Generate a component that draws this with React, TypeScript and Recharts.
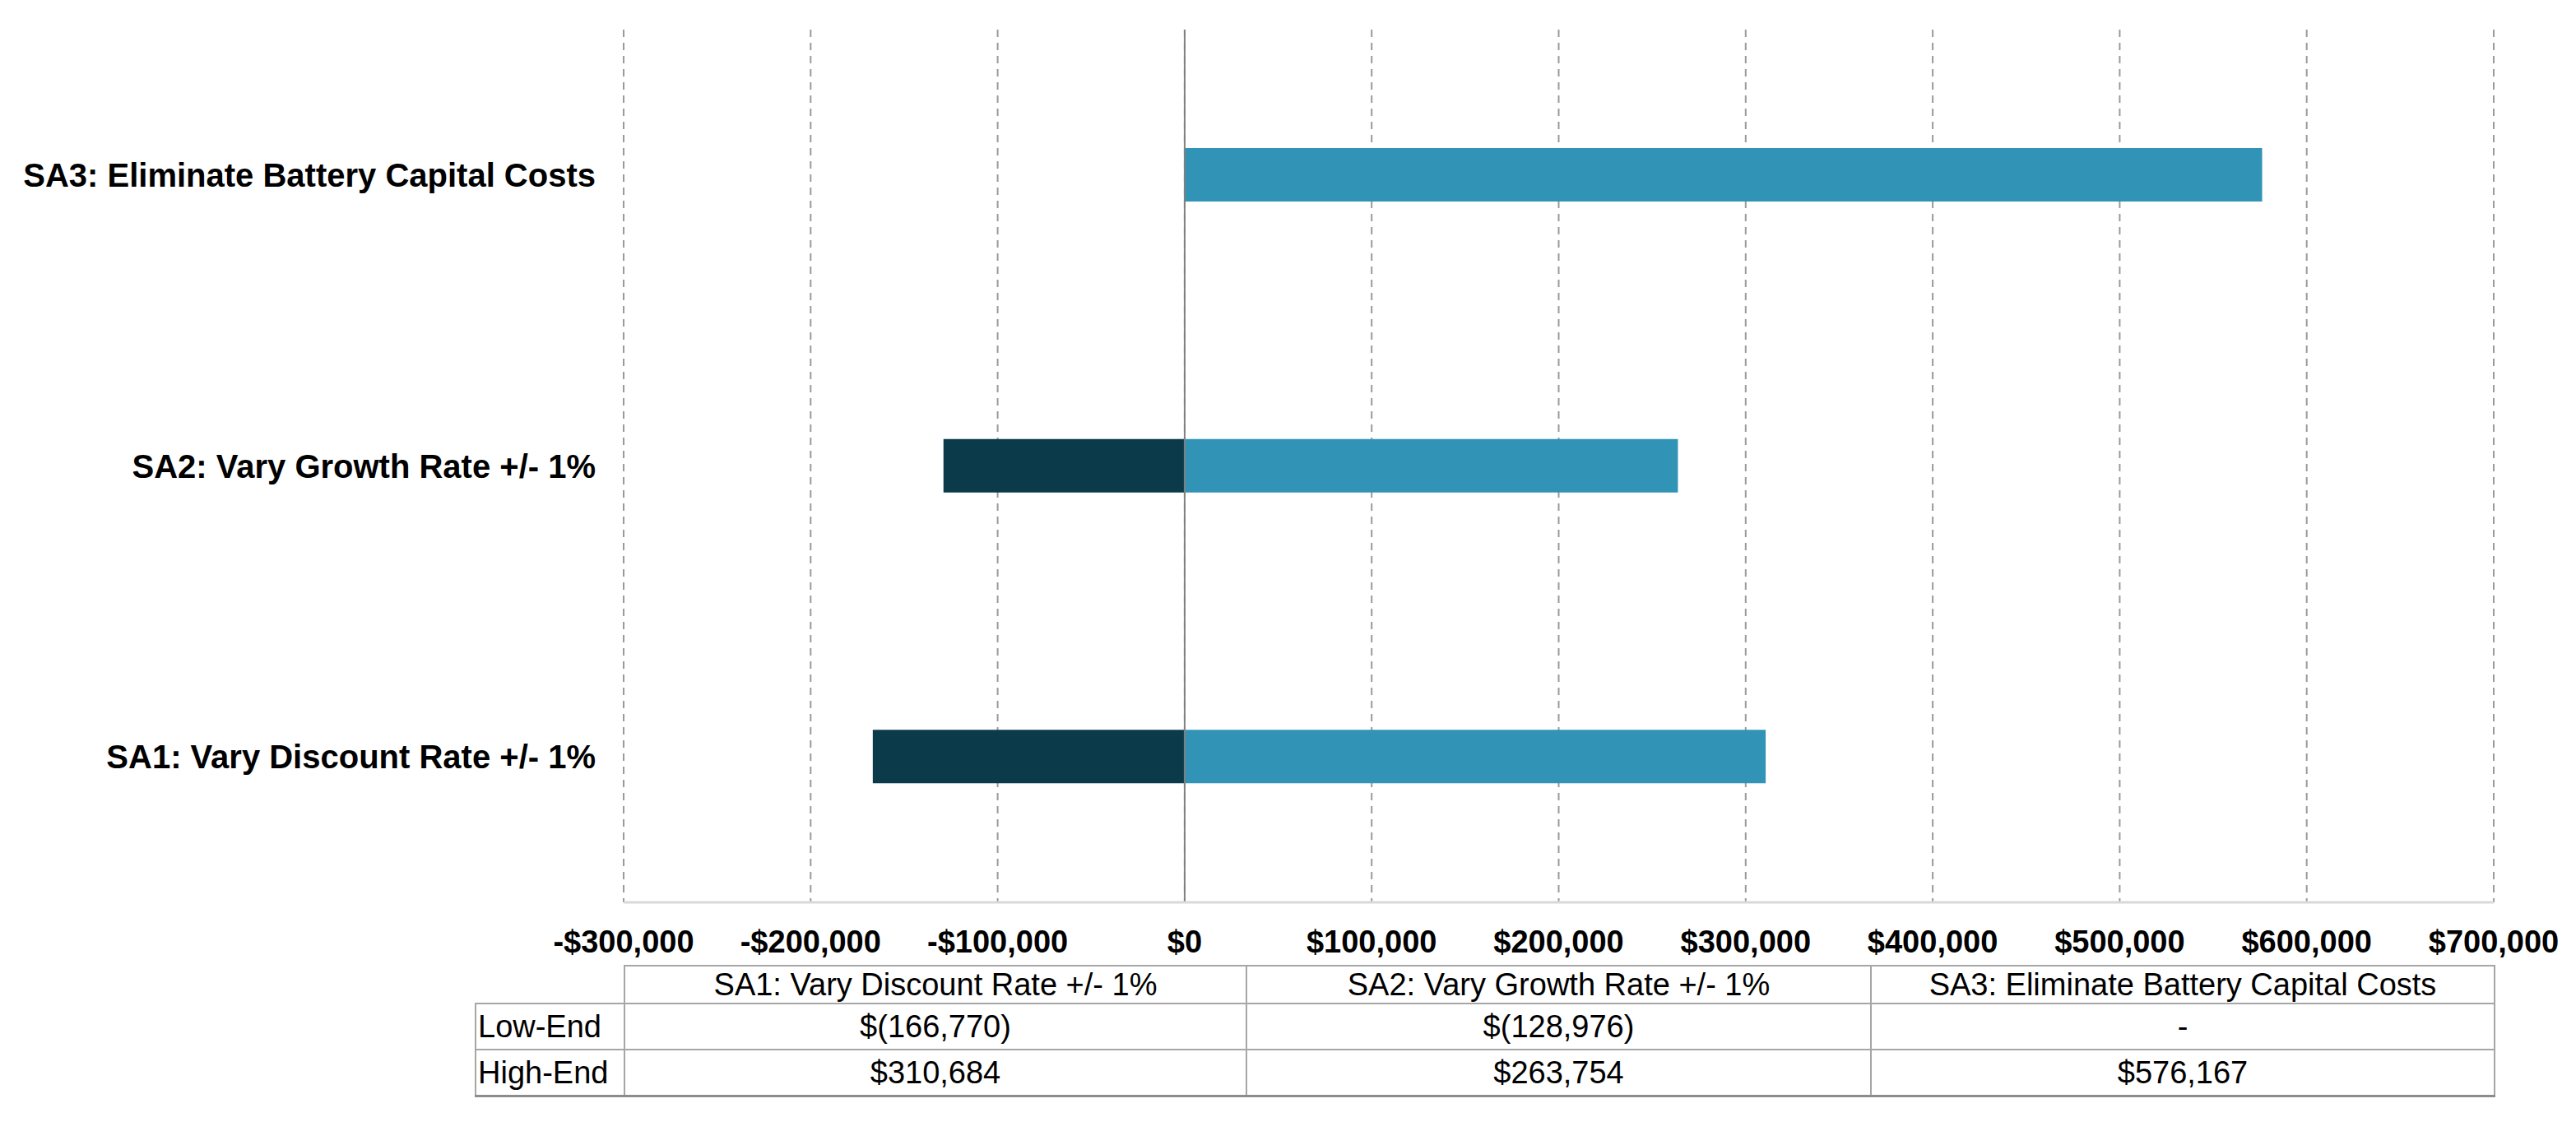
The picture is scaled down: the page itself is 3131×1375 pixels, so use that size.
import React from "react";
import {
  BarChart,
  Bar,
  XAxis,
  YAxis,
  CartesianGrid,
  ReferenceLine,
} from "recharts";

const categories = [
  "SA1: Vary Discount Rate +/- 1%",
  "SA2: Vary Growth Rate +/- 1%",
  "SA3: Eliminate Battery Capital Costs",
];
const lowEnd = [-166770, -128976, 0];
const highEnd = [310684, 263754, 576167];
const xTicks = [-300000, -200000, -100000, 0, 100000, 200000, 300000, 400000, 500000, 600000, 700000];
const rowLabels = ["Low-End", "High-End"];

const data = categories.map((name, i) => ({
  name,
  low: lowEnd[i],
  high: highEnd[i],
}));

const FONT = '"Liberation Sans", Arial, sans-serif';
const DARK = "#0b3a4b";
const LIGHT = "#3193b6";

const fmtTick = (v: number) =>
  (v < 0 ? "-$" : "$") + Math.abs(v).toLocaleString("en-US");

const fmtCell = (v: number) => {
  if (v === 0) return "-";
  if (v < 0) return "$(" + Math.abs(v).toLocaleString("en-US") + ")";
  return "$" + v.toLocaleString("en-US");
};

const border = "2px solid #a6a6a6";

const cell: React.CSSProperties = {
  border,
  padding: 0,
  textAlign: "center",
  fontSize: 38,
  fontFamily: FONT,
  color: "#000",
  lineHeight: 1,
};

const App: React.FC = () => {
  return (
    <div style={{ position: "absolute", left: 0, top: 0, width: 3131, height: 1375, background: "#fff" }}>
      <BarChart
        width={3131}
        height={1375}
        data={data}
        layout="vertical"
        stackOffset="sign"
        margin={{ top: 36, right: 100, bottom: 178, left: 0 }}
      >
        <CartesianGrid
          horizontal={false}
          stroke="#9a9a9a"
          strokeWidth={2}
          strokeDasharray="9 7"
        />
        <XAxis
          type="number"
          domain={[-300000, 700000]}
          ticks={xTicks}
          tickFormatter={fmtTick}
          height={100}
          tickLine={false}
          tickMargin={28}
          axisLine={{ stroke: "#d9d9d9", strokeWidth: 3 }}
          tick={{ fontSize: 38, fontWeight: "bold", fill: "#000", fontFamily: FONT }}
        />
        <YAxis
          type="category"
          dataKey="name"
          reversed
          width={758}
          axisLine={false}
          tickLine={false}
          tickMargin={28}
          tick={{ fontSize: 40, fontWeight: "bold", fill: "#000", fontFamily: FONT }}
        />
        <Bar dataKey="low" stackId="a" fill={DARK} barSize={65} isAnimationActive={false} />
        <Bar dataKey="high" stackId="a" fill={LIGHT} barSize={65} isAnimationActive={false} />
        <ReferenceLine x={0} stroke="#808080" strokeWidth={2} />
      </BarChart>

      <table
        style={{
          position: "absolute",
          left: 577,
          top: 1173,
          borderCollapse: "collapse",
          tableLayout: "fixed",
          width: 3031 - 577,
          borderBottom: "3px solid #8c8c8c",
        }}
      >
        <colgroup>
          <col style={{ width: 181 }} />
          <col style={{ width: 756 }} />
          <col style={{ width: 759 }} />
          <col style={{ width: 758 }} />
        </colgroup>
        <tbody>
          <tr style={{ height: 46 }}>
            <td style={{ ...cell, borderTop: "none", borderLeft: "none" }} />
            {categories.map((c) => (
              <td key={c} style={cell}>
                {c}
              </td>
            ))}
          </tr>
          <tr style={{ height: 56 }}>
            <td style={{ ...cell, textAlign: "left", paddingLeft: 2 }}>{rowLabels[0]}</td>
            {lowEnd.map((v, i) => (
              <td key={i} style={cell}>
                {fmtCell(v)}
              </td>
            ))}
          </tr>
          <tr style={{ height: 56 }}>
            <td style={{ ...cell, textAlign: "left", paddingLeft: 2, borderBottom: "3px solid #8c8c8c" }}>
              {rowLabels[1]}
            </td>
            {highEnd.map((v, i) => (
              <td key={i} style={{ ...cell, borderBottom: "3px solid #8c8c8c" }}>
                {fmtCell(v)}
              </td>
            ))}
          </tr>
        </tbody>
      </table>
    </div>
  );
};

export default App;
